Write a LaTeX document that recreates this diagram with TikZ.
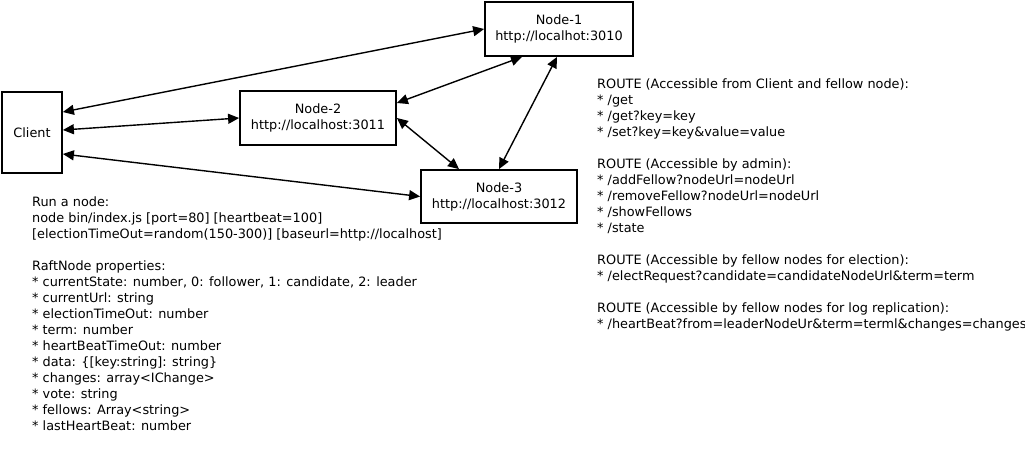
\documentclass[tikz,border=0pt]{standalone}
\usepackage{fontspec}
\setmainfont{DejaVu Sans}
\usetikzlibrary{arrows.meta, calc, positioning}
\tikzset{
  >={Triangle[length=11pt, width=10pt]},
  every picture/.style={line cap=butt, line join=miter, font=\fontsize{12.85}{16}\selectfont},
  server/.style={draw, line width=1.8pt, align=center, inner sep=0pt},
  link/.style={<->, line width=1.4pt},
  notes/.style={align=left, inner sep=0pt, anchor=north west},
}
\begin{document}
\begin{tikzpicture}[x=1pt, y=-1pt]
  \useasboundingbox[fill=white] (0,0) rectangle (1025,450);
  % the cluster
  \node[server, minimum width=60pt, minimum height=81pt] (client) at (32,132.5) {Client};
  \node[server, minimum width=148pt, minimum height=54pt] (node1) at (559,29) {Node-1\\http://localhot:3010};
  \node[server, minimum width=156pt, minimum height=54pt] (node2) at (318,118) {Node-2\\http://localhost:3011};
  \node[server, minimum width=156pt, minimum height=53pt] (node3) at (499,196.5) {Node-3\\http://localhost:3012};
  \draw[link] ([yshift=20.5pt]client.east) -- (node1.west);
  \draw[link] ([yshift=2.5pt]client.east) -- (node2.west);
  \draw[link] ([yshift=-21.5pt]client.east) -- (node3.west);
  \draw[link] ([yshift=15pt]node2.east) -- ([xshift=-37pt]node1.south);
  \draw[link] (node2.east) -- ([xshift=-40pt]node3.north);
  \draw[link] ([xshift=-2pt]node1.south) -- (node3.north);
  % usage and properties
  \node[notes] (usage) at (32,196.2) {Run a node:\\
    node bin/index.js [port=80] [heartbeat=100]\\
    {[}electionTimeOut=random(150-300)] [baseurl=http://localhost]\\[16pt]
    RaftNode properties:\\
    * currentState: number, 0: follower, 1: candidate, 2: leader\\
    * currentUrl: string\\
    * electionTimeOut: number\\
    * term: number\\
    * heartBeatTimeOut: number\\
    * data: \{[key:string]: string\}\\
    * changes: array<IChange>\\
    * vote: string\\
    * fellows: Array<string>\\
    * lastHeartBeat: number};
  % routes
  \node[notes] (routes) at (597,78.2) {ROUTE (Accessible from Client and fellow node):\\
    * /get\\
    * /get?key=key\\
    * /set?key=key\&value=value\\[16pt]
    ROUTE (Accessible by admin):\\
    * /addFellow?nodeUrl=nodeUrl\\
    * /removeFellow?nodeUrl=nodeUrl\\
    * /showFellows\\
    * /state\\[16pt]
    ROUTE (Accessible by fellow nodes for election):\\
    * /electRequest?candidate=candidateNodeUrl\&term=term\\[16pt]
    ROUTE (Accessible by fellow nodes for log replication):\\
    * /heartBeat?from=leaderNodeUr\&term=terml\&changes=changes};
\end{tikzpicture}
\end{document}
